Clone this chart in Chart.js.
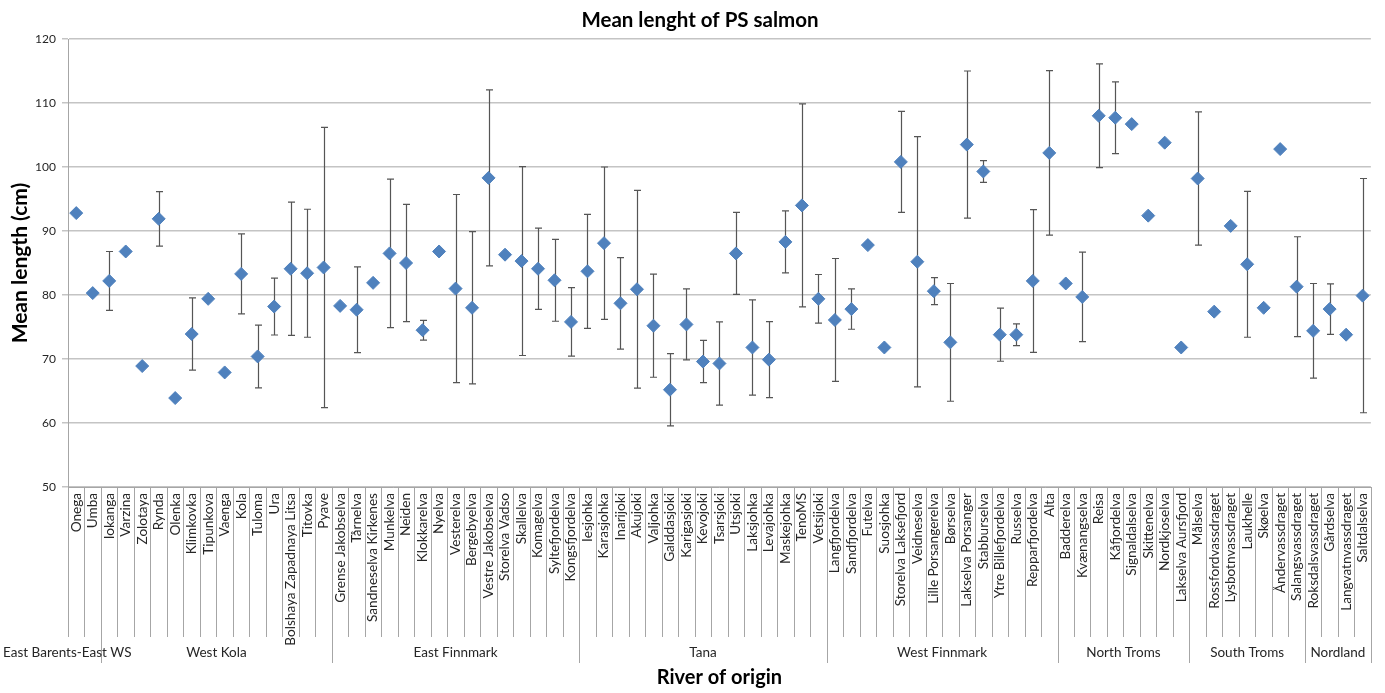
<!DOCTYPE html>
<html>
<head>
<meta charset="utf-8">
<script src="https://cdn.jsdelivr.net/npm/chart.js@4/dist/chart.umd.min.js"></script>
<style>
  html, body { margin: 0; padding: 0; background: #ffffff; }
  #wrap { width: 1385px; height: 693px; }
</style>
</head>
<body>
<div id="wrap"><canvas id="c" width="1385" height="693"></canvas></div>
<script>
// Rivers, in axis order
const rivers = [
  'Onega', 'Umba',
  'Iokanga', 'Varzina', 'Zolotaya', 'Rynda', 'Olenka', 'Klimkovka', 'Tipunkova', 'Vaenga',
  'Kola', 'Tuloma', 'Ura', 'Bolshaya Zapadnaya Litsa', 'Titovka', 'Pyave',
  'Grense Jakobselva', 'Tårnelva', 'Sandneselva Kirkenes', 'Munkelva', 'Neiden', 'Klokkarelva',
  'Nyelva', 'Vesterelva', 'Bergebyelva', 'Vestre Jakobselva', 'Storelva Vadso', 'Skallelva',
  'Komagelva', 'Syltefjordelva', 'Kongsfjordelva',
  'Iesjohka', 'Karasjohka', 'Inarijoki', 'Akujoki', 'Valjohka', 'Galddasjoki', 'Karigasjoki',
  'Kevojoki', 'Tsarsjoki', 'Utsjoki', 'Laksjohka', 'Levajohka', 'Maskejohka', 'TenoMS', 'Vetsijoki',
  'Langfjordelva', 'Sandfjordelva', 'Futelva', 'Suosjohka', 'Storelva Laksefjord', 'Veidneselva',
  'Lille Porsangerelva', 'Børselva', 'Lakselva Porsanger', 'Stabburselva', 'Ytre Billefjordelva',
  'Russelva', 'Repparfjordelva', 'Alta',
  'Badderelva', 'Kvænangselva', 'Reisa', 'Kåfjordelva', 'Signaldalselva', 'Skittenelva',
  'Nordkjoselva', 'Lakselva Aursfjord',
  'Målselva', 'Rossfordvassdraget', 'Lysbotnvassdraget', 'Laukhelle', 'Skøelva',
  'Åndervassdraget', 'Salangsvassdraget',
  'Roksdalsvassdraget', 'Gårdselva', 'Langvatnvassdraget', 'Saltdalselva'
];

// Regions and how many rivers each one holds
const regions = ['East Barents-East WS', 'West Kola', 'East Finnmark', 'Tana',
                 'West Finnmark', 'North Troms', 'South Troms', 'Nordland'];
const regionSizes = [2, 14, 15, 15, 14, 8, 7, 4];

// Mean length (cm) per river
const meanLength = [
  92.8, 80.3,
  82.2, 86.8, 68.9, 91.9, 63.9, 73.9, 79.4, 67.9, 83.3, 70.4, 78.2, 84.1, 83.4, 84.3,
  78.3, 77.7, 81.9, 86.5, 85.0, 74.5, 86.8, 81.0, 78.0, 98.3, 86.3, 85.3, 84.1, 82.3, 75.8,
  83.7, 88.1, 78.7, 80.9, 75.2, 65.2, 75.4, 69.6, 69.3, 86.5, 71.8, 69.9, 88.3, 94.0, 79.4,
  76.1, 77.8, 87.8, 71.8, 100.8, 85.2, 80.6, 72.6, 103.5, 99.3, 73.8, 73.8, 82.2, 102.2,
  81.8, 79.7, 108.0, 107.7, 106.7, 92.4, 103.8, 71.8,
  98.2, 77.4, 90.8, 84.8, 78.0, 102.8, 81.3,
  74.4, 77.8, 73.8, 79.9
];

// Standard deviation (cm); null where no spread is shown
const sdLength = [
  null, null,
  4.6, null, null, 4.25, null, 5.65, null, null, 6.25, 4.9, 4.45, 10.4, 10.0, 21.9,
  null, 6.7, null, 11.6, 9.15, 1.55, null, 14.7, 11.9, 13.75, null, 14.75, 6.35, 6.4, 5.35,
  8.9, 11.9, 7.15, 15.45, 8.05, 5.65, 5.55, 3.3, 6.5, 6.4, 7.45, 5.95, 4.85, 15.85, 3.8,
  9.6, 3.15, null, null, 7.9, 19.55, 2.1, 9.2, 11.5, 1.7, 4.15, 1.7, 11.15, 12.85,
  null, 7.0, 8.1, 5.6, null, null, null, null,
  10.4, null, null, 11.4, null, null, 7.8,
  7.4, 3.95, null, 18.3
];

const yTicks = { min: 50, max: 120, step: 10 };

const FONT = 'Lato, "Open Sans", "DejaVu Sans", sans-serif';
const TEXT = '#262626';
const LINE = '#a6a6a6';

// Chart heading
const heading = {
  id: 'heading',
  afterDraw(chart) {
    const { ctx } = chart;
    ctx.save();
    ctx.fillStyle = '#000000';
    ctx.font = 'bold 20.5px ' + FONT;
    ctx.textAlign = 'center';
    ctx.textBaseline = 'middle';
    ctx.fillText('Mean lenght of PS salmon', 700, 20);
    ctx.restore();
  }
};

// Vertical bars of +/- one SD, drawn behind the markers
const errorBars = {
  id: 'errorBars',
  beforeDatasetsDraw(chart) {
    const { ctx, scales: { x, y } } = chart;
    ctx.save();
    ctx.strokeStyle = '#555555';
    ctx.lineWidth = 1.2;
    meanLength.forEach((m, i) => {
      const sd = sdLength[i];
      if (sd == null) return;
      const px = Math.round(x.getPixelForValue(i)) + 0.5;
      const top = y.getPixelForValue(m + sd);
      const bot = y.getPixelForValue(m - sd);
      ctx.beginPath();
      ctx.moveTo(px, top); ctx.lineTo(px, bot);
      ctx.moveTo(px - 3.5, top); ctx.lineTo(px + 3.5, top);
      ctx.moveTo(px - 3.5, bot); ctx.lineTo(px + 3.5, bot);
      ctx.stroke();
    });
    ctx.restore();
  }
};

// Category dividers and the region row under the river names
const regionAxis = {
  id: 'regionAxis',
  afterDraw(chart) {
    const { ctx, scales: { x }, chartArea } = chart;
    const step = x.getPixelForValue(1) - x.getPixelForValue(0);
    const base = chartArea.bottom;
    const catEnd = base + 150;
    const grpEnd = base + 176;
    const labelY = base + 166;

    const groupEdges = new Set();
    let acc = 0;
    regionSizes.forEach(s => { acc += s; groupEdges.add(acc); });

    ctx.save();
    ctx.strokeStyle = LINE;
    ctx.lineWidth = 1;
    for (let i = 0; i <= rivers.length; i++) {
      const edge = (i < rivers.length ? x.getPixelForValue(i) : x.getPixelForValue(i - 1) + step) - step / 2;
      const px = Math.round(edge) + 0.5;
      ctx.beginPath();
      ctx.moveTo(px, base);
      ctx.lineTo(px, groupEdges.has(i) ? grpEnd : catEnd);
      ctx.stroke();
    }

    ctx.fillStyle = TEXT;
    ctx.font = '13.5px ' + FONT;
    ctx.textBaseline = 'middle';
    let start = 0;
    regions.forEach((name, g) => {
      const end = start + regionSizes[g] - 1;
      const left = x.getPixelForValue(start) - step / 2;
      const right = x.getPixelForValue(end) + step / 2;
      const w = ctx.measureText(name).width;
      if (w > right - left) {
        ctx.textAlign = 'left';
        ctx.fillText(name, 3, labelY);
      } else {
        ctx.textAlign = 'center';
        ctx.fillText(name, (left + right) / 2, labelY);
      }
      start = end + 1;
    });
    ctx.restore();
  }
};

new Chart(document.getElementById('c'), {
  type: 'line',
  data: {
    labels: rivers,
    datasets: [{
      label: 'Mean length',
      data: meanLength,
      showLine: false,
      pointStyle: 'rectRot',
      pointRadius: 6.5,
      pointHoverRadius: 6.5,
      pointBackgroundColor: '#4f81bd',
      pointBorderColor: '#4f81bd',
      pointBorderWidth: 1
    }]
  },
  options: {
    responsive: false,
    devicePixelRatio: 1,
    animation: false,
    layout: { padding: { top: 39, right: 10, bottom: 0, left: 0 } },
    plugins: {
      legend: { display: false },
      tooltip: { enabled: false },
      title: { display: false }
    },
    scales: {
      x: {
        type: 'category',
        offset: true,
        grid: { display: false, drawOnChartArea: false, drawTicks: false },
        border: { display: true, color: LINE, width: 1 },
        ticks: {
          autoSkip: false,
          minRotation: 90,
          maxRotation: 90,
          padding: 6,
          color: TEXT,
          font: { family: FONT, size: 13.6 }
        },
        title: {
          display: true,
          text: 'River of origin',
          color: '#000000',
          font: { family: FONT, size: 20, weight: 'bold', lineHeight: 1.2 },
          padding: { top: 0, bottom: 3 }
        },
        afterFit(scale) { scale.height = 206; }
      },
      y: {
        min: yTicks.min,
        max: yTicks.max,
        ticks: {
          stepSize: yTicks.step,
          padding: 6,
          color: TEXT,
          font: { family: FONT, size: 12 }
        },
        grid: { color: '#c4c4c4', lineWidth: 1.5, tickLength: 6, tickColor: '#c4c4c4' },
        border: { display: true, color: LINE, width: 1 },
        title: {
          display: true,
          text: 'Mean length (cm)',
          color: '#000000',
          font: { family: FONT, size: 21, weight: 'bold', lineHeight: 1.2 },
          padding: { top: 8, bottom: 0 }
        },
        afterFit(scale) { scale.width = 68; }
      }
    }
  },
  plugins: [errorBars, regionAxis, heading]
});
</script>
</body>
</html>
